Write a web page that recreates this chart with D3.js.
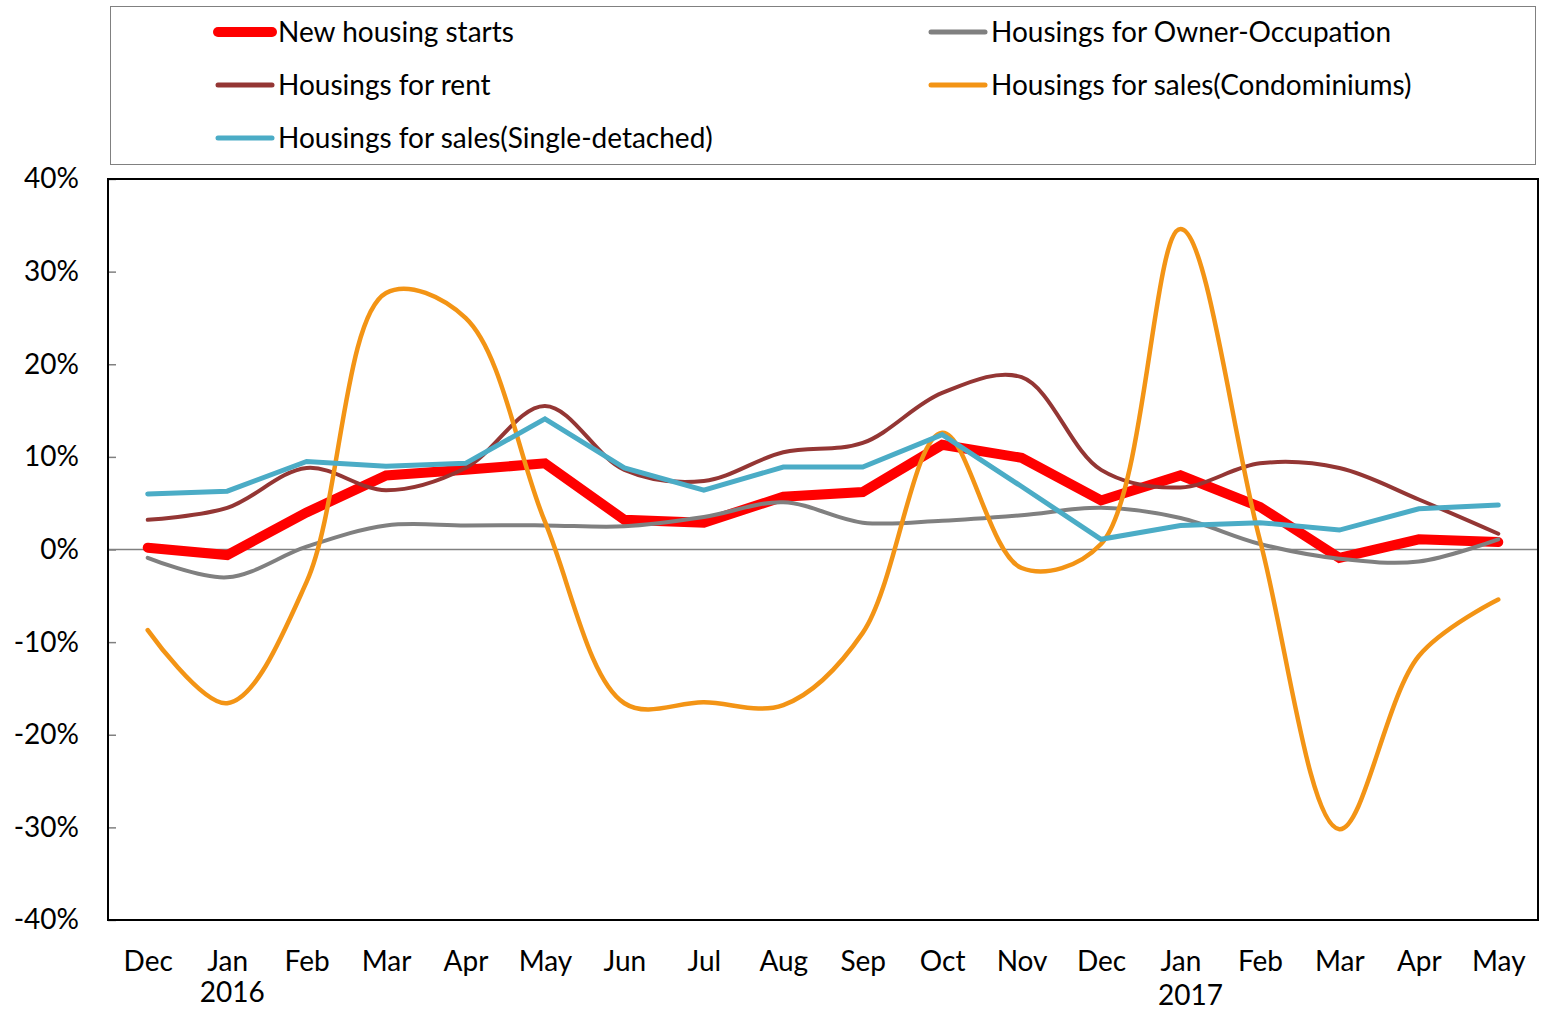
<!DOCTYPE html>
<html>
<head>
<meta charset="utf-8">
<script src="https://cdn.jsdelivr.net/npm/d3@7"></script>
<style>
  body { margin: 0; background: #fff; }
  svg text { font-family: Lato, 'Open Sans', sans-serif; fill: #000; }
</style>
</head>
<body>
<div class="canvas"></div>
<script>
// months on the x axis, Dec 2015 .. May 2017
const months = ['Dec', 'Jan', 'Feb', 'Mar', 'Apr', 'May', 'Jun', 'Jul', 'Aug', 'Sep',
  'Oct', 'Nov', 'Dec', 'Jan', 'Feb', 'Mar', 'Apr', 'May']
const years = [{index: 1, label: '2016'}, {index: 13, label: '2017'}]
const yTicks = [-0.4, -0.3, -0.2, -0.1, 0, 0.1, 0.2, 0.3, 0.4]

// year-on-year change, %
const newStarts = [0.2, -0.6, 4.0, 8.0, 8.6, 9.3, 3.2, 2.9, 5.7, 6.2, 11.3, 9.9, 5.3, 8.0, 4.6, -0.9, 1.1, 0.8]
const ownerOccupation = [-0.9, -3.0, 0.3, 2.6, 2.6, 2.6, 2.5, 3.5, 5.1, 2.9, 3.1, 3.7, 4.5, 3.4, 0.6, -1.0, -1.3, 1.1]
const forRent = [3.2, 4.5, 8.8, 6.4, 8.8, 15.5, 8.6, 7.4, 10.5, 11.5, 16.9, 18.6, 8.6, 6.7, 9.3, 8.8, 5.4, 1.7]
const condominiums = [-8.7, -16.6, -3.5, 27.7, 25.0, 3.0, -16.6, -16.5, -16.8, -9.0, 12.6, -2.0, 0.6, 34.6, 1.0, -30.2, -11.5, -5.4]
const singleDetached = [6.0, 6.3, 9.5, 9.0, 9.3, 14.1, 8.8, 6.4, 8.9, 8.9, 12.4, 6.8, 1.1, 2.6, 2.9, 2.1, 4.4, 4.8]

const series = [
  {name: 'New housing starts', values: newStarts, colour: '#ff0000', width: 10, smooth: false},
  {name: 'Housings for Owner-Occupation', values: ownerOccupation, colour: '#808080', width: 4, smooth: true},
  {name: 'Housings for rent', values: forRent, colour: '#943634', width: 4, smooth: true},
  {name: 'Housings for sales(Condominiums)', values: condominiums, colour: '#f39415', width: 4.5, smooth: true},
  {name: 'Housings for sales(Single-detached)', values: singleDetached, colour: '#4bacc6', width: 5, smooth: false}
]

const width = 1542
const height = 1010
const fontSize = 28
const plot = {left: 108, right: 1538, top: 179, bottom: 920}

const svg = d3.select('.canvas')
  .append('svg')
  .attr('width', width)
  .attr('height', height)

const x = d3.scalePoint()
  .domain(d3.range(months.length))
  .range([plot.left, plot.right])
  .padding(0.5)

const y = d3.scaleLinear()
  .domain([-0.4, 0.4])
  .range([plot.bottom, plot.top])

// y axis, ticks point inwards
const yAxis = svg.append('g')
  .attr('transform', `translate(${plot.left},0)`)
  .call(d3.axisLeft(y)
    .tickValues(yTicks)
    .tickSize(-8)
    .tickPadding(29)
    .tickFormat(d => `${Math.round(d * 100)}%`))
yAxis.select('.domain').remove()
yAxis.selectAll('line').attr('stroke', '#808080').attr('stroke-width', 1.5)
yAxis.selectAll('text').attr('font-size', fontSize).attr('fill', '#000')

// x axis labels
const xAxis = svg.append('g')
  .attr('transform', `translate(0,${plot.bottom})`)
  .call(d3.axisBottom(x)
    .tickSize(0)
    .tickPadding(31)
    .tickFormat(i => months[i]))
xAxis.select('.domain').remove()
xAxis.selectAll('text').attr('font-size', fontSize).attr('fill', '#000')

svg.append('g')
  .selectAll('text')
  .data(years)
  .join('text')
  .attr('x', d => x(d.index) + (d.index === 1 ? 5 : 10))
  .attr('y', d => d.index === 1 ? 1002 : 1005)
  .attr('text-anchor', 'middle')
  .attr('font-size', fontSize)
  .text(d => d.label)

// zero line
svg.append('line')
  .attr('x1', plot.left).attr('x2', plot.right)
  .attr('y1', y(0)).attr('y2', y(0))
  .attr('stroke', '#808080')
  .attr('stroke-width', 1.5)

const lines = svg.append('g')
series.forEach(s => {
  const line = d3.line()
    .x((d, i) => x(i))
    .y(d => y(d / 100))
    .curve(s.smooth ? d3.curveCatmullRom.alpha(0.5) : d3.curveLinear)

  lines.append('path')
    .datum(s.values)
    .attr('d', line)
    .attr('fill', 'none')
    .attr('stroke', s.colour)
    .attr('stroke-width', s.width)
    .attr('stroke-linecap', 'round')
    .attr('stroke-linejoin', s.smooth ? 'round' : 'miter')
})

// plot frame
svg.append('rect')
  .attr('x', plot.left).attr('y', plot.top)
  .attr('width', plot.right - plot.left)
  .attr('height', plot.bottom - plot.top)
  .attr('fill', 'none')
  .attr('stroke', '#000')
  .attr('stroke-width', 2)

// legend
const legend = svg.append('g')
legend.append('rect')
  .attr('x', 110.5).attr('y', 6.5)
  .attr('width', 1425).attr('height', 158)
  .attr('fill', 'none')
  .attr('stroke', '#808080')
  .attr('stroke-width', 1)

const items = legend.selectAll('g.item')
  .data(series)
  .join('g')
  .attr('class', 'item')
  .attr('transform', (d, i) => `translate(${i % 2 ? 928 : 215},${32 + Math.floor(i / 2) * 53})`)

items.append('line')
  .attr('x1', 3).attr('x2', 57)
  .attr('stroke', d => d.colour)
  .attr('stroke-width', d => d.width === 10 ? 10 : 5)
  .attr('stroke-linecap', 'round')

items.append('text')
  .attr('x', 63)
  .attr('dy', '0.35em')
  .attr('font-size', fontSize)
  .text(d => d.name)
</script>
</body>
</html>
